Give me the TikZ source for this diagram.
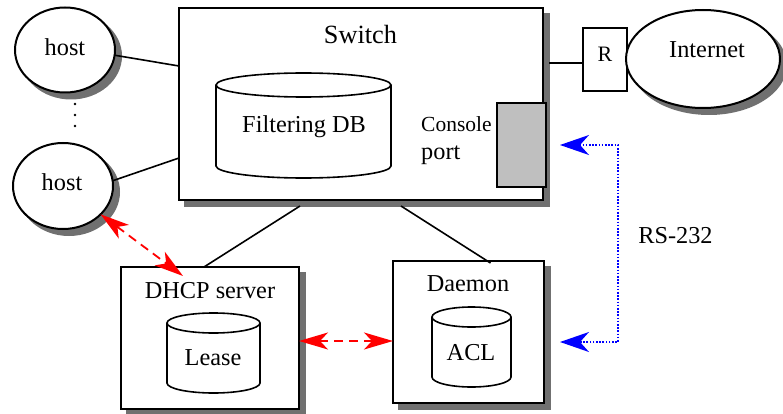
\documentclass[tikz,border=0pt]{standalone}
\usepackage{fontspec}
\setmainfont{Liberation Serif}
\usetikzlibrary{shadows,arrows.meta,shapes.geometric}
\definecolor{shadowgray}{HTML}{707070}
\begin{document}
\begin{tikzpicture}[x=1pt,y=-1pt,
  every node/.style={font=\fontsize{24.3}{27}\selectfont},
  shad/.style={general shadow={shadow xshift=6pt,shadow yshift=-6pt,fill=shadowgray,draw=shadowgray,opacity=1}},
  boxnode/.style={draw,line width=2pt,fill=white,inner sep=0pt,outer sep=0pt,shad},
  ellnode/.style={draw,ellipse,line width=2pt,fill=white,inner sep=0pt,outer sep=0pt,shad},
  plainbox/.style={draw,line width=1.6pt,fill=white,inner sep=0pt,outer sep=0pt},
  txt/.style={inner sep=0pt},
  conn/.style={line width=1.6pt},
  cyl/.style={line width=1.6pt},
  redarrow/.style={red,line width=1.8pt,dash pattern=on 9pt off 6pt,
     {Stealth[length=29pt,width=17pt,inset=8pt]}-{Stealth[length=29pt,width=17pt,inset=8pt]}},
  bluearrow/.style={blue,line width=1.6pt,dash pattern=on 1.6pt off 1.6pt,
     {Stealth[length=29pt,width=20pt,inset=9pt]}-{Stealth[length=29pt,width=20pt,inset=9pt]}}
]
\useasboundingbox (0,0) rectangle (783,414);

% Switch
\node[boxnode,minimum width=364pt,minimum height=192pt] (switch) at (361,104) {};
\node[txt,font=\fontsize{26.3}{29}\selectfont] (switchlabel) at (360.5,35) {Switch};
% Filtering DB cylinder
\draw[cyl] (216,85) -- (216,166) arc[start angle=180,end angle=360,x radius=87.5pt,y radius=12pt] -- (391,85);
\draw[cyl] (303.5,85) ellipse[x radius=87.5pt,y radius=12pt];
\node[txt] (fdb) at (304,127) {Filtering DB};
% Console port
\node[plainbox,fill=gray!50,minimum width=49pt,minimum height=84pt] (cport) at (521.5,145) {};
\node[txt,anchor=west,font=\fontsize{21.5}{24}\selectfont] (console) at (421,124) {Console};
\node[txt,anchor=west] (port) at (421,155) {port};

% R and Internet
\node[plainbox,minimum width=44pt,minimum height=63pt] (R) at (605,59.5) {};
\node[txt,font=\fontsize{22}{24}\selectfont] (Rlabel) at (605,54) {R};
\node[ellnode,minimum width=154pt,minimum height=98pt] (inet) at (703,59) {};
\node[txt] (inetlabel) at (707,50) {Internet};
\coordinate (srline) at (0,63);
\draw[conn] ([xshift=6pt]switch.east |- srline) -- (R.west |- srline);

% hosts
\node[ellnode,minimum width=100pt,minimum height=85pt] (host1) at (65,50) {};
\node[txt] (host1label) at (65,47) {host};
\node[ellnode,minimum width=100pt,minimum height=86pt] (host2) at (63,186) {};
\node[txt] (host2label) at (62,182) {host};
\fill (75,104) circle[radius=1.4pt] (75,115) circle[radius=1.4pt] (75,126) circle[radius=1.4pt];
\draw[conn] (host1.-6) -- ([shift={(0,-38)}]switch.west);
\draw[conn] (host2.6) -- ([shift={(0,54)}]switch.west);

% DHCP server
\node[boxnode,minimum width=178pt,minimum height=142pt] (dhcp) at (210,338) {};
\node[txt] (dhcplabel) at (210,291) {DHCP server};
\draw[cyl] (167,323) -- (167,383) arc[start angle=180,end angle=360,x radius=46.5pt,y radius=10pt] -- (260,323);
\draw[cyl] (213.5,323) ellipse[x radius=46.5pt,y radius=10pt];
\node[txt] (lease) at (213,358) {Lease};

% Daemon
\node[boxnode,minimum width=151pt,minimum height=142pt] (daemon) at (468.5,332) {};
\node[txt] (daemonlabel) at (468,284) {Daemon};
\draw[cyl] (432,317) -- (432,377) arc[start angle=180,end angle=360,x radius=39.5pt,y radius=10pt] -- (511,317);
\draw[cyl] (471.5,317) ellipse[x radius=39.5pt,y radius=10pt];
\node[txt] (acl) at (471,353) {ACL};

% switch connections
\draw[conn] ([shift={(-61,6)}]switch.south) -- ([shift={(-6,0)}]dhcp.north);
\draw[conn] ([shift={(40,6)}]switch.south) -- ([shift={(22,2)}]daemon.north);

% red arrows
\draw[redarrow] (host2.-37) -- ([shift={(62,9)}]dhcp.north west);
\draw[redarrow] ([yshift=-3pt]dhcp.east) -- ([yshift=-9pt]daemon.west);

% RS-232
\coordinate (rsc) at (618,240);
\draw[bluearrow] ([xshift=14pt]cport.east) -| (rsc) |- ([shift={(16,10)}]daemon.east);
\node[txt] (rs) at (675.5,236) {RS-232};
\end{tikzpicture}
\end{document}
